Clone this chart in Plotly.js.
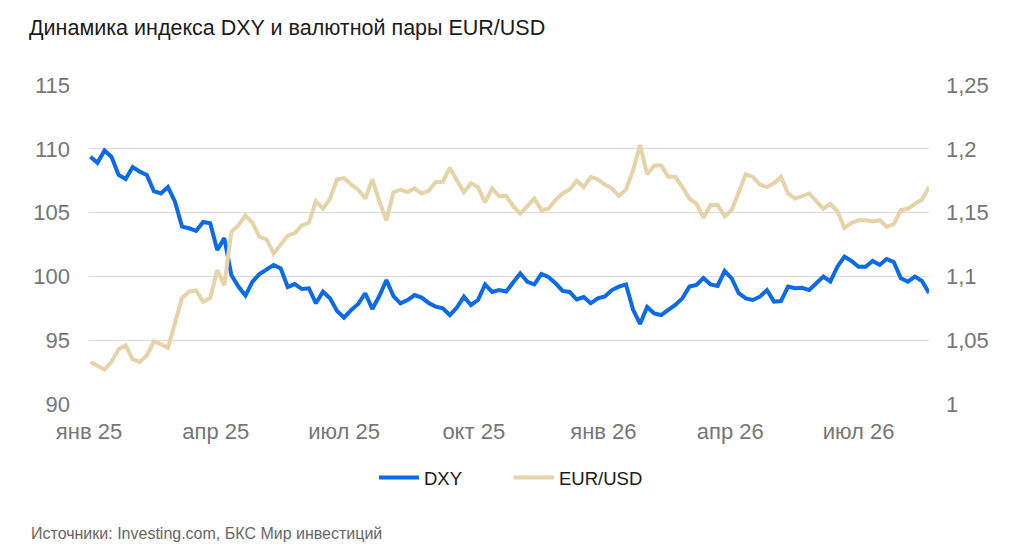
<!DOCTYPE html>
<html>
<head>
<meta charset="utf-8">
<script src="https://cdn.plot.ly/plotly-3.0.1.min.js"></script>
<style>
  html, body { margin: 0; padding: 0; background: #fff; }
  #chart { width: 1024px; height: 557px; }
</style>
</head>
<body>
<div id="chart"></div>
<script>
// пятидневный шаг, первая точка 2 января 2025
const startDate = '2025-01-02';
const stepDays = 5;

const dxy = [
  109.38, 108.9, 109.87, 109.36, 107.95, 107.63, 108.57, 108.21, 107.95, 106.69,
  106.5, 107.0, 105.86, 103.9, 103.77, 103.56, 104.26, 104.16, 102.07, 103.0,
  100.11, 99.2, 98.5, 99.59, 100.19, 100.5, 100.9, 100.63, 99.17, 99.4,
  99.01, 99.07, 97.89, 98.8, 98.28, 97.29, 96.77, 97.37, 97.84, 98.68,
  97.45, 98.46, 99.72, 98.46, 97.89, 98.15, 98.54, 98.34, 97.92, 97.63,
  97.5, 96.97, 97.56, 98.41, 97.76, 98.15, 99.37, 98.78, 98.93, 98.82,
  99.58, 100.24, 99.58, 99.37, 100.19, 99.96, 99.46, 98.86, 98.78, 98.19,
  98.38, 97.89, 98.28, 98.42, 98.93, 99.2, 99.37, 97.4, 96.27, 97.6,
  97.09, 96.97, 97.37, 97.76, 98.28, 99.2, 99.33, 99.88, 99.37, 99.25,
  100.42, 99.85, 98.68, 98.28, 98.15, 98.41, 98.93, 98.02, 98.07, 99.2,
  99.07, 99.11, 98.93, 99.46, 99.98, 99.6, 100.76, 101.55, 101.21, 100.76,
  100.76, 101.21, 100.9, 101.36, 101.13, 99.85, 99.59, 99.98, 99.64, 98.7
];

const eurusd = [
  1.033, 1.030, 1.027, 1.033, 1.043, 1.046, 1.035, 1.033, 1.038, 1.049,
  1.047, 1.044, 1.065, 1.083, 1.088, 1.089, 1.080, 1.083, 1.105, 1.093,
  1.135, 1.140, 1.148, 1.142, 1.131, 1.129, 1.118, 1.125, 1.132, 1.134,
  1.140, 1.142, 1.159, 1.153, 1.161, 1.176, 1.177, 1.172, 1.168, 1.161,
  1.176, 1.159, 1.144, 1.166, 1.168, 1.166, 1.169, 1.165, 1.167, 1.174,
  1.174, 1.185, 1.176, 1.166, 1.173, 1.170, 1.158, 1.169, 1.163, 1.163,
  1.155, 1.149, 1.155, 1.161, 1.152, 1.153, 1.160, 1.165, 1.168, 1.175,
  1.170, 1.178, 1.176, 1.172, 1.169, 1.163, 1.168, 1.183, 1.203, 1.180,
  1.187, 1.187, 1.178, 1.178, 1.170, 1.161, 1.157, 1.146, 1.156, 1.156,
  1.147, 1.152, 1.166, 1.180, 1.178, 1.172, 1.170, 1.173, 1.178, 1.165,
  1.161, 1.163, 1.165, 1.159, 1.153, 1.157, 1.151, 1.138, 1.142, 1.144,
  1.144, 1.143, 1.144, 1.139, 1.141, 1.152, 1.153, 1.157, 1.160, 1.170
];

const tickDates = ['2025-01-01', '2025-04-01', '2025-07-01', '2025-10-01', '2026-01-01', '2026-04-01', '2026-07-01'];
const tickLabels = ['янв 25', 'апр 25', 'июл 25', 'окт 25', 'янв 26', 'апр 26', 'июл 26'];

const leftTicks = [90, 95, 100, 105, 110, 115];
const rightTicks = [1, 1.05, 1.1, 1.15, 1.2, 1.25];

const dates = Array.from(dxy, (el, i) => {
    const d = new Date(startDate + 'T00:00:00Z');
    d.setUTCDate(d.getUTCDate() + i * stepDays);
    return d.toISOString().slice(0, 10);
});

const grey = '#767676';
const tickFont = { family: 'Liberation Sans, Arial, sans-serif', size: 22, color: grey };

const traceDxy = {
    name: 'DXY',
    type: 'scatter',
    mode: 'lines',
    x: dates,
    y: dxy,
    line: { color: '#0a6aea', width: 4 },
    yaxis: 'y',
};
const traceEur = {
    name: 'EUR/USD',
    type: 'scatter',
    mode: 'lines',
    x: dates,
    y: eurusd,
    line: { color: '#e6d3a7', width: 4 },
    yaxis: 'y2',
};

const layout = {
    width: 1024,
    height: 557,
    separators: ', ',
    paper_bgcolor: '#fff',
    plot_bgcolor: '#fff',
    margin: { l: 89, r: 95, t: 85, b: 153 },
    font: { family: 'Liberation Sans, Arial, sans-serif', color: '#222' },
    title: {
        text: 'Динамика индекса DXY и валютной пары EUR/USD',
        font: { size: 21.5, color: '#1a1a1a' },
        xref: 'container', yref: 'container',
        x: 29 / 1024, xanchor: 'left',
        y: 1 - 27 / 557, yanchor: 'middle',
    },
    xaxis: {
        type: 'date',
        range: ['2025-01-01', dates[dates.length - 1]],
        tickmode: 'array',
        tickvals: tickDates,
        ticktext: tickLabels,
        tickfont: tickFont,
        showgrid: false,
        showline: false,
        zeroline: false,
        ticks: '',
        ticklabelstandoff: 12,
        fixedrange: true,
    },
    yaxis: {
        range: [90, 115],
        tickmode: 'array',
        tickvals: leftTicks,
        tickfont: tickFont,
        gridcolor: '#dcdcdc',
        gridwidth: 1,
        showline: false,
        zeroline: false,
        ticks: '',
        ticklabelstandoff: 18,
        fixedrange: true,
    },
    yaxis2: {
        overlaying: 'y',
        side: 'right',
        range: [1, 1.25],
        tickmode: 'array',
        tickvals: rightTicks,
        tickfont: tickFont,
        showgrid: false,
        showline: false,
        zeroline: false,
        ticks: '',
        ticklabelstandoff: 16,
        fixedrange: true,
    },
    legend: {
        orientation: 'h',
        x: 0.5, xanchor: 'center',
        y: -0.232, yanchor: 'middle',
        font: { size: 18.5, color: '#1a1a1a' },
        itemwidth: 40,
        entrywidth: 80,
    },
    showlegend: true,
    annotations: [{
        text: 'Источники: Investing.com, БКС Мир инвестиций',
        xref: 'paper', yref: 'paper',
        x: (29 - 89) / 840, xanchor: 'left',
        y: (404 - 533) / 319, yanchor: 'middle',
        showarrow: false,
        font: { size: 16, color: '#666' },
    }],
};

Plotly.newPlot('chart', [traceDxy, traceEur], layout, { displayModeBar: false, staticPlot: true });
</script>
</body>
</html>
